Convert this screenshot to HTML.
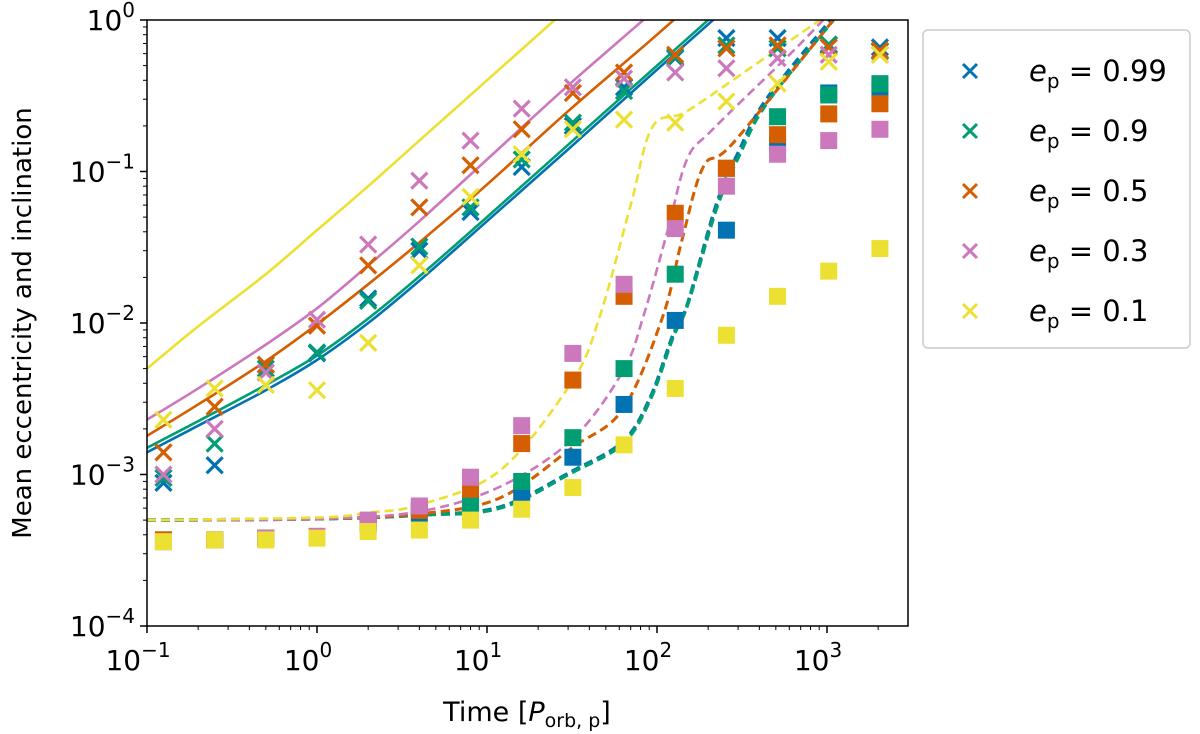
<!DOCTYPE html>
<html><head><meta charset="utf-8"><style>
body{margin:0;background:#fff;}
svg{display:block;font-family:"DejaVu Sans","Liberation Sans",sans-serif;}
</style></head><body>
<svg id="chart" width="1200" height="734" viewBox="0 0 1200 734">
<defs><clipPath id="clip"><rect x="147" y="20" width="761" height="606"/></clipPath></defs>
<g id="plot" clip-path="url(#clip)"></g>
<rect x="147" y="20" width="761" height="606" fill="none" stroke="#000" stroke-width="1.5"/>
<g id="axes"></g>
<text x="31" y="323" font-size="26" text-anchor="middle" transform="rotate(-90 31 323)">Mean eccentricity and inclination</text>
<text x="527" y="721" font-size="27" text-anchor="middle">Time [<tspan font-style="italic">P</tspan><tspan font-size="19" dy="6">orb, p</tspan><tspan dy="-6">]</tspan></text>
<rect x="923" y="30" width="267" height="318" rx="5" fill="#fff" stroke="#ccc" stroke-width="1.5"/>
<g id="legend"></g>
</svg>
<script>
const times = [0.125,0.25,0.5,1,2,4,8,16,32,64,128,256,512,1024,2048];
const seriesNames = ["0.99","0.9","0.5","0.3","0.1"];
const colors = ["#0173b2","#029e73","#d55e00","#cc78bc","#ece133"];
const eccBlue   = [8.8e-4,1.15e-3,5.3e-3,6.3e-3,1.45e-2,3.0e-2,5.4e-2,0.107,0.2,0.36,0.56,0.76,0.76,0.68,0.66];
const eccGreen  = [9.5e-4,1.6e-3,5.0e-3,6.4e-3,1.4e-2,3.2e-2,5.8e-2,0.12,0.21,0.34,0.57,0.68,0.65,0.69,0.62];
const eccOrange = [1.4e-3,2.8e-3,5.3e-3,9.6e-3,2.4e-2,5.8e-2,0.11,0.19,0.33,0.45,0.59,0.65,0.68,0.66,0.63];
const eccPink   = [1.0e-3,2.0e-3,4.7e-3,1.05e-2,3.3e-2,8.7e-2,0.16,0.26,0.36,0.41,0.45,0.48,0.56,0.59,0.59];
const eccYellow = [2.3e-3,3.7e-3,3.9e-3,3.6e-3,7.4e-3,2.4e-2,6.8e-2,0.13,0.19,0.22,0.21,0.29,0.38,0.53,0.59];
const incBlue   = [3.7e-4,3.7e-4,3.8e-4,3.9e-4,4.7e-4,5.5e-4,6.2e-4,7.6e-4,1.3e-3,2.9e-3,0.0104,0.041,0.15,0.33,0.34];
const incGreen  = [3.7e-4,3.7e-4,3.8e-4,3.9e-4,4.8e-4,6.0e-4,6.4e-4,9.0e-4,1.75e-3,5.0e-3,0.021,0.105,0.23,0.32,0.38];
const incOrange = [3.7e-4,3.7e-4,3.8e-4,3.9e-4,4.8e-4,5.8e-4,8.0e-4,1.6e-3,4.2e-3,0.015,0.053,0.105,0.175,0.24,0.28];
const incPink   = [3.6e-4,3.7e-4,3.8e-4,3.9e-4,5.0e-4,6.2e-4,9.6e-4,2.1e-3,6.3e-3,0.018,0.042,0.08,0.13,0.16,0.19];
const incYellow = [3.6e-4,3.7e-4,3.7e-4,3.8e-4,4.2e-4,4.3e-4,5.0e-4,5.9e-4,8.2e-4,1.57e-3,3.7e-3,8.3e-3,0.015,0.022,0.031];
const solidT = [0.1,0.2,0.5,1,2,4,10,30,100,300];
const solidBlue   = [0.0014,0.0021,0.0036,0.0057,0.0100,0.019,0.047,0.14,0.47,1.4];
const solidGreen  = [0.0015,0.00225,0.0039,0.0061,0.0107,0.0203,0.050,0.15,0.5,1.5];
const solidOrange = [0.0018,0.0029,0.0056,0.0098,0.018,0.034,0.082,0.25,0.8,2.4];
const solidPink   = [0.0023,0.0037,0.0072,0.0125,0.024,0.047,0.12,0.37,1.2,3.6];
const solidYellow = [0.005,0.0095,0.021,0.041,0.08,0.16,0.4,1.2,4,12];
const dashBlueT = [0.1,1,4,11.9,31.6,63,91,124,150,225,307,440,1050];
const dashBlue  = [5e-4,5.1e-4,5.4e-4,6.1e-4,1.05e-3,1.65e-3,3.2e-3,8.3e-3,0.013,0.062,0.14,0.3,1];
const dashGreenT = [0.1,1,4,11.9,31.6,63,91,124,152,225,307,440,1090];
const dashGreen  = [5e-4,5.1e-4,5.4e-4,6e-4,1.03e-3,1.6e-3,3.1e-3,8e-3,0.0134,0.058,0.13,0.28,1];
const dashOrangeT = [0.1,1,4,11.9,31.6,63,108,140,187,280,1090];
const dashOrange  = [5e-4,5.1e-4,5.5e-4,7e-4,1.5e-3,2.7e-3,0.011,0.035,0.107,0.154,1];
const dashPinkT = [0.1,1,4,11.9,31.6,63,83,115,150,213,610,950];
const dashPink  = [5e-4,5.1e-4,5.7e-4,8.3e-4,1.7e-3,4.8e-3,0.011,0.04,0.12,0.19,0.6,1];
const dashYellowT = [0.1,1,2,4,11.9,31.6,46,70,94,150,390,910];
const dashYellow  = [5e-4,5.2e-4,5.6e-4,6.3e-4,1.06e-3,4.1e-3,0.011,0.06,0.197,0.25,0.52,1];
const xTickLabels = ["-1","0","1","2","3"];
const yTickLabels = ["-4","-3","-2","-1","0"];

const X0=147,X1=908,Y0=626,Y1=20;
const xs = t => X0 + (Math.log10(t)+1)*170;
const ys = v => Y1 + (0-Math.log10(v))*151.5;
const NS="http://www.w3.org/2000/svg";
function mk(tag, attrs, parent){const e=document.createElementNS(NS,tag);for(const k in attrs)e.setAttribute(k,attrs[k]);parent.appendChild(e);return e;}
function smooth(pts){
  let d='M'+pts[0][0]+','+pts[0][1];
  for(let i=0;i<pts.length-1;i++){
    const p0=pts[Math.max(0,i-1)],p1=pts[i],p2=pts[i+1],p3=pts[Math.min(pts.length-1,i+2)];
    const c1=[p1[0]+(p2[0]-p0[0])/6,p1[1]+(p2[1]-p0[1])/6];
    const c2=[p2[0]-(p3[0]-p1[0])/6,p2[1]-(p3[1]-p1[1])/6];
    d+=`C${c1[0]},${c1[1]} ${c2[0]},${c2[1]} ${p2[0]},${p2[1]}`;
  }
  return d;
}
const plot=document.getElementById('plot'), axes=document.getElementById('axes'), leg=document.getElementById('legend');

const ecc=[eccBlue,eccGreen,eccOrange,eccPink,eccYellow];
const inc=[incBlue,incGreen,incOrange,incPink,incYellow];
const solids=[solidBlue,solidGreen,solidOrange,solidPink,solidYellow];
const dashT=[dashBlueT,dashGreenT,dashOrangeT,dashPinkT,dashYellowT];
const dashV=[dashBlue,dashGreen,dashOrange,dashPink,dashYellow];
const dashW=[3.5,3.5,3,2.6,2.6];

for(let s=0;s<5;s++){
  const c=colors[s];
  const sl=mk('path',{d:smooth(solidT.map((t,i)=>[xs(t),ys(solids[s][i])])),fill:'none',stroke:c,'stroke-width':2.6},plot);
  
  
  const dl=mk('path',{d:smooth(dashT[s].map((t,i)=>[xs(t),ys(dashV[s][i])])),fill:'none',stroke:c,'stroke-width':dashW[s],'stroke-dasharray':'9,5'},plot);
  
  
}
for(let s=0;s<5;s++){
  const c=colors[s];
  times.forEach((t,i)=>{
    const x=xs(t),y=ys(ecc[s][i]),h=8;
    const g=mk('path',{d:`M${x-h},${y-h}L${x+h},${y+h}M${x-h},${y+h}L${x+h},${y-h}`,stroke:c,'stroke-width':3.2,fill:'none'},plot);
    
    
    const r=mk('rect',{x:x-8.5,y:ys(inc[s][i])-8.5,width:17,height:17,fill:c},plot);
    
    
  });
}
xTickLabels.forEach((lab,k)=>{
  const e=-1+k, x=xs(Math.pow(10,e));
  const tk=mk('line',{x1:x,x2:x,y1:Y0,y2:Y0+7,stroke:'#000','stroke-width':1.5},axes);
  
  
  const tx=mk('text',{x:x-9,y:Y0+44,'font-size':28,'text-anchor':'middle'},axes);
  
  
  tx.innerHTML='10<tspan font-size="20" dy="-13">'+lab.replace('-','\u2212')+'</tspan>';
  for(let m=2;m<10;m++){const xm=xs(m*Math.pow(10,e)); if(xm<=X1){const mt=mk('line',{x1:xm,x2:xm,y1:Y0,y2:Y0+4,stroke:'#000','stroke-width':1},axes);}}
});
yTickLabels.forEach((lab,k)=>{
  const e=-4+k, y=ys(Math.pow(10,e));
  const tk=mk('line',{x1:X0-7,x2:X0,y1:y,y2:y,stroke:'#000','stroke-width':1.5},axes);
  
  
  const tx=mk('text',{x:X0-12,y:y+10,'font-size':28,'text-anchor':'end'},axes);
  
  
  tx.innerHTML='10<tspan font-size="20" dy="-13">'+lab.replace('-','\u2212')+'</tspan>';
  if(e<0)for(let m=2;m<10;m++){const ym=ys(m*Math.pow(10,e));const mt=mk('line',{x1:X0-4,x2:X0,y1:ym,y2:ym,stroke:'#000','stroke-width':1},axes);}
});
seriesNames.forEach((n,s)=>{
  const y=71+s*60, x=970, h=7;
  const m=mk('path',{d:`M${x-h},${y-h}L${x+h},${y+h}M${x-h},${y+h}L${x+h},${y-h}`,stroke:colors[s],'stroke-width':3,fill:'none'},leg);
  
  
  const t=mk('text',{x:1029,y:y+10,'font-size':29},leg);
  
  
  t.innerHTML='<tspan font-style="italic">e</tspan><tspan font-size="20" dy="7">p</tspan><tspan dy="-7"> = '+n+'</tspan>';
});
</script>
</body></html>
